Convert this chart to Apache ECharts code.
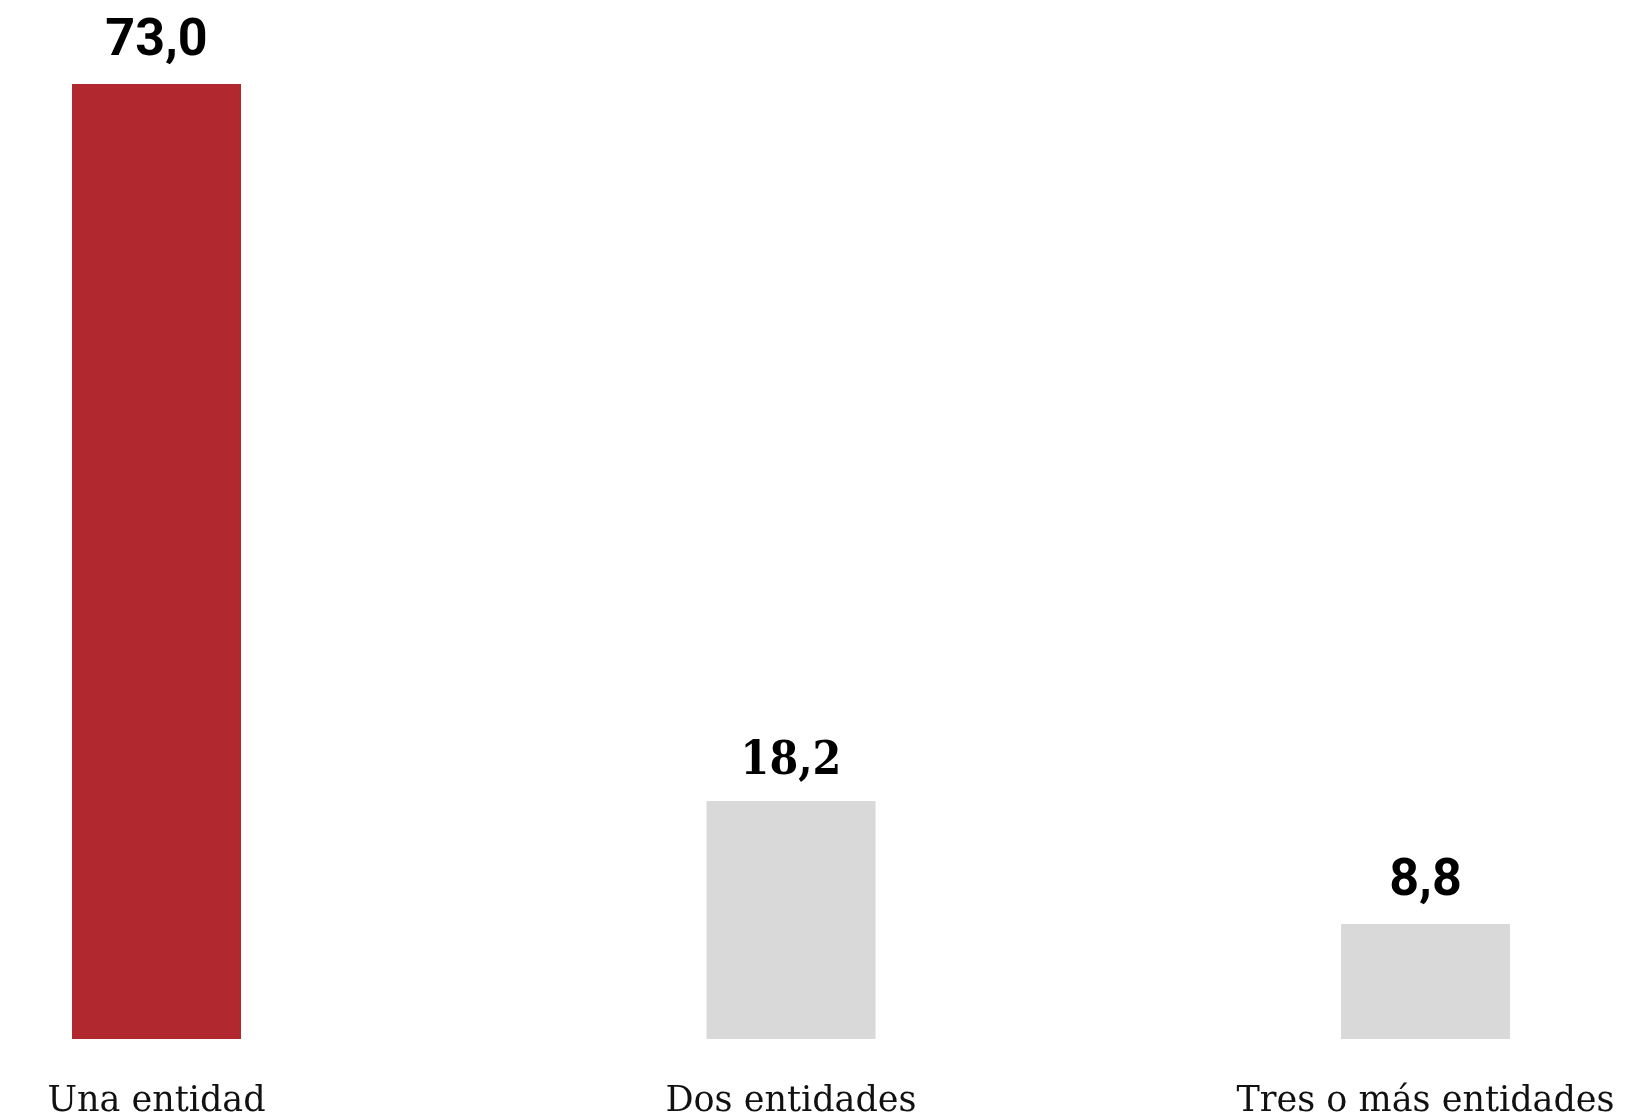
<!DOCTYPE html>
<html>
<head>
<meta charset="utf-8">
<script src="https://cdn.jsdelivr.net/npm/echarts@6/dist/echarts.min.js"></script>
<style>
html,body{margin:0;padding:0;background:#fff;}
#chart{width:1645px;height:1117px;}
</style>
</head>
<body>
<div id="chart"></div>
<script>
const categories = ['Una entidad', 'Dos entidades', 'Tres o más entidades'];
const values = [73.0, 18.2, 8.8];
const barColors = ['#B1292F', '#D9D9D9', '#D9D9D9'];
const labelFonts = ['Roboto', '"DejaVu Serif Condensed", "DejaVu Serif"', 'Roboto'];

const chart = echarts.init(document.getElementById('chart'));
chart.setOption({
  animation: false,
  backgroundColor: '#ffffff',
  grid: { left: 156.5, right: 219.5, top: 84, bottom: 78, containLabel: false, outerBoundsMode: 'none' },
  xAxis: {
    type: 'category',
    data: categories,
    boundaryGap: false,
    axisLine: { show: false },
    axisTick: { show: false },
    axisLabel: {
      fontFamily: 'DejaVu Serif',
      fontSize: 35,
      color: '#111',
      margin: 45
    }
  },
  yAxis: {
    type: 'value',
    min: 0,
    max: 73,
    show: false,
    splitLine: { show: false }
  },
  series: [{
    type: 'bar',
    barWidth: 169,
    clip: false,
    data: values.map((v, i) => ({
      value: v,
      itemStyle: { color: barColors[i] },
      label: { fontFamily: labelFonts[i], fontSize: i === 1 ? 46 : 52 }
    })),
    label: {
      show: true,
      position: 'top',
      distance: 16,
      fontWeight: 'bold',
      color: '#000',
      formatter: p => p.value.toFixed(1).replace('.', ',')
    }
  }]
});
</script>
</body>
</html>
